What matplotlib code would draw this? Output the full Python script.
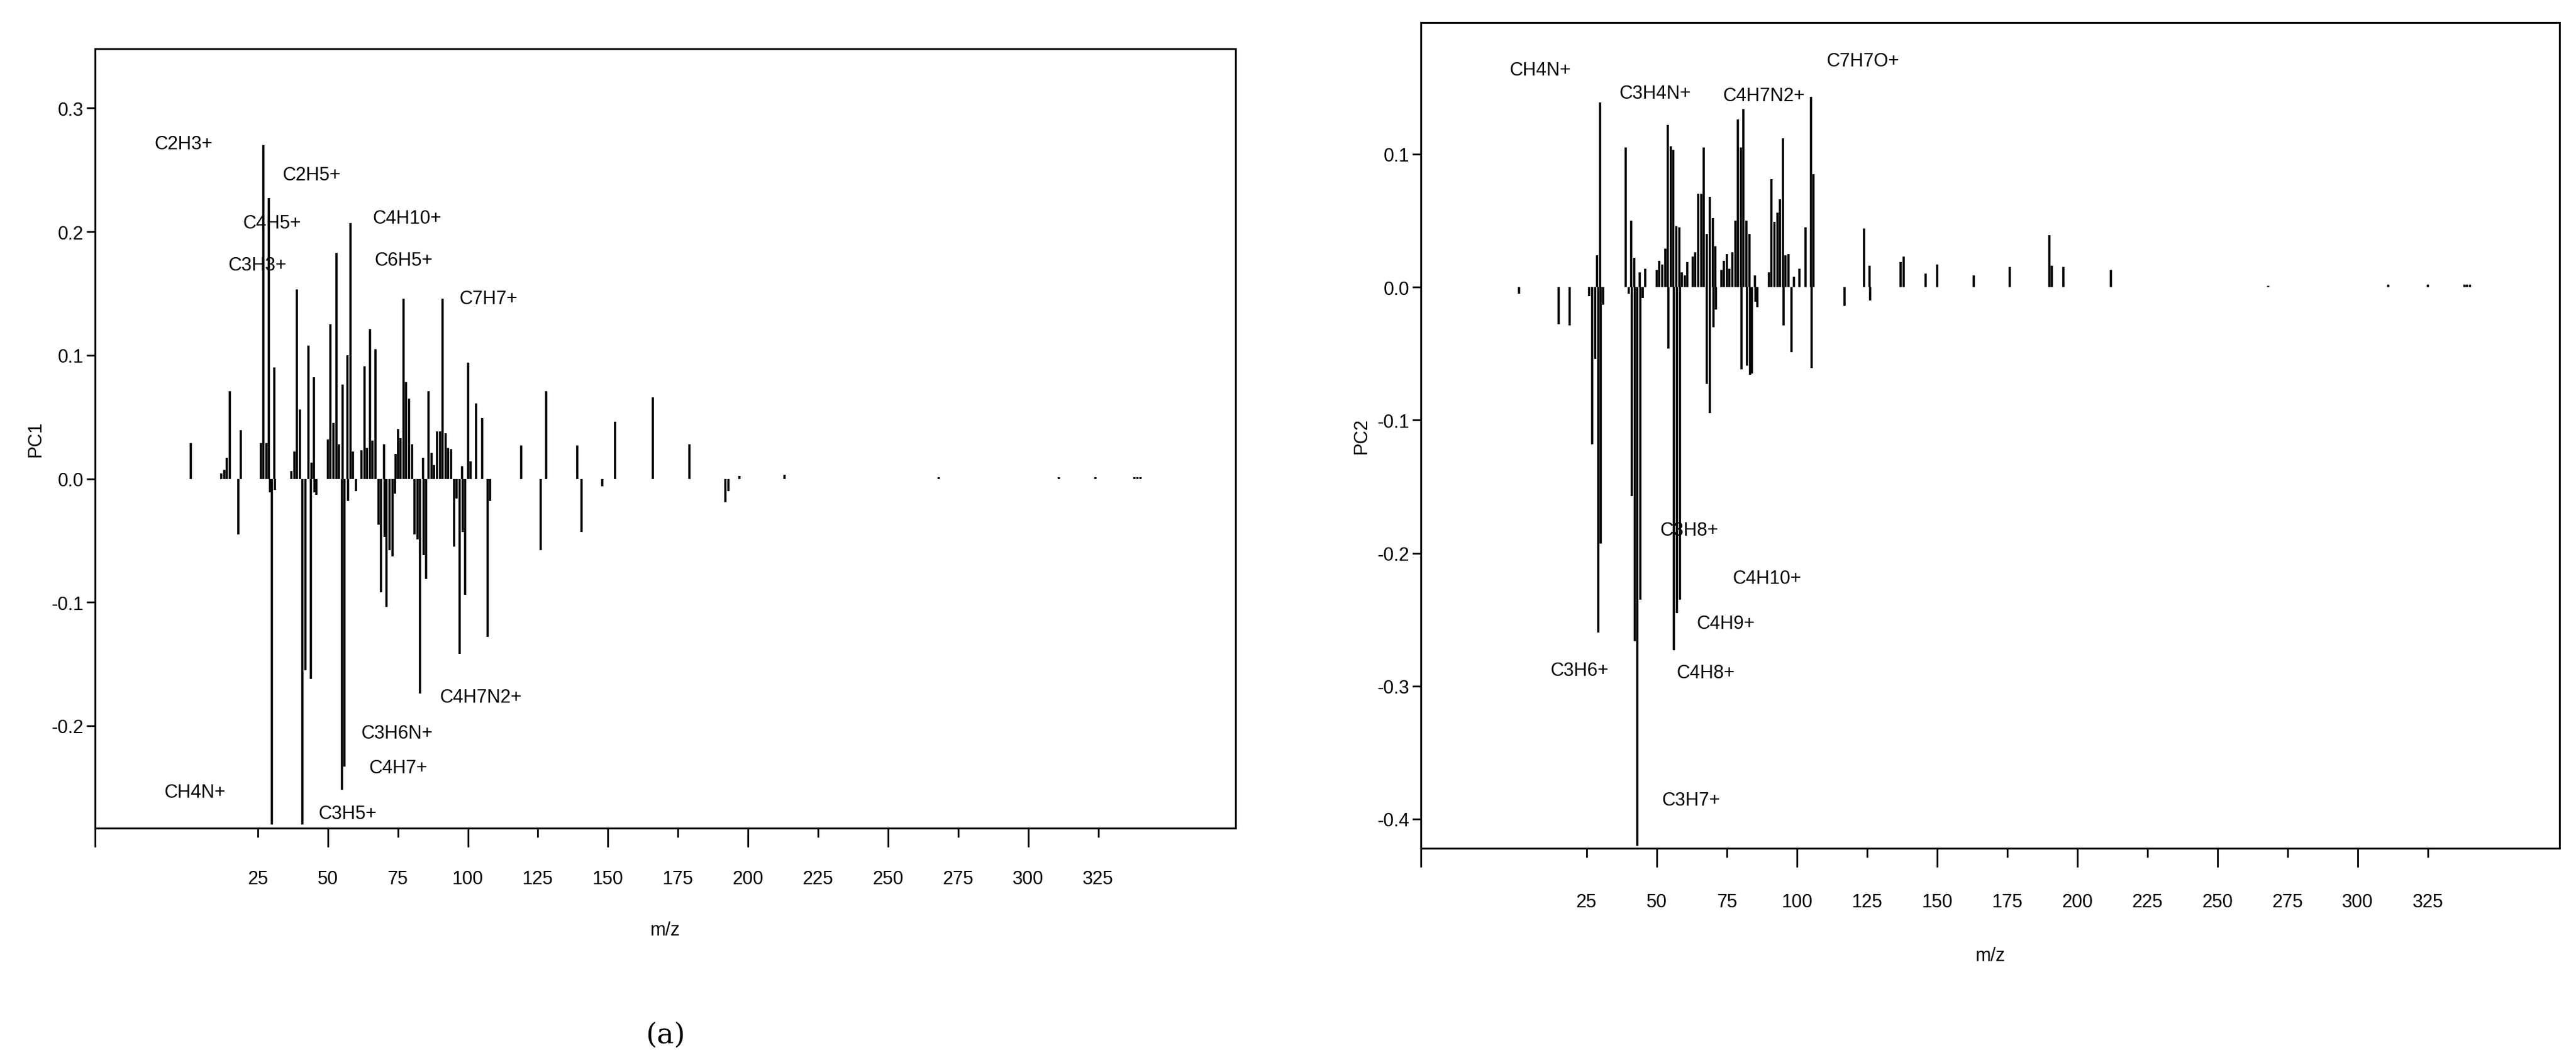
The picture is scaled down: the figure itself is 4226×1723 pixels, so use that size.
import matplotlib
matplotlib.use("Agg")
import matplotlib.pyplot as plt
from matplotlib.ticker import FixedLocator, NullFormatter

plt.rcParams['font.family'] = ['Liberation Sans', 'DejaVu Sans']
plt.rcParams['axes.unicode_minus'] = False

# ---------------- PC1 loadings ----------------
pc1_mz = [1, 12, 13, 14, 15, 18, 19, 26, 27, 28, 29, 29.3, 30, 31, 31.2, 37, 38, 39, 40, 41,
          42, 43, 44, 44.2, 45, 45.2, 46, 50, 51, 52, 53, 54, 55, 55.2, 56, 57, 57.2, 58, 59, 60,
          62, 63, 64, 65, 66, 67, 68, 69, 70, 70.2, 71, 72, 73, 74, 74.2, 75, 76, 77, 78, 79, 80,
          81, 82, 83, 84, 84.2, 85, 86, 87, 88, 89, 90, 91, 92, 93, 94, 95, 96, 97, 98, 98.2, 99,
          100, 101, 103, 105, 107, 108, 119, 126, 128, 139, 140.5, 148, 152.5, 166, 179, 192,
          193, 197, 213, 268, 311, 324, 338, 339, 340]
pc1_val = [0.029, 0.004, 0.007, 0.017, 0.071, -0.045, 0.039, 0.029, 0.270, 0.029, 0.227, -0.011,
           -0.280, 0.090, -0.009, 0.006, 0.022, 0.153, 0.056, -0.280,
           -0.155, 0.108, -0.162, 0.013, 0.082, -0.011, -0.013, 0.032, 0.125, 0.045, 0.183, 0.028,
           -0.252, 0.076, -0.233, 0.100, -0.018, 0.207, 0.022, -0.010,
           0.023, 0.091, 0.025, 0.121, 0.031, 0.105, -0.037, -0.092, 0.028, -0.047, -0.104, -0.058,
           -0.063, -0.012, 0.020, 0.040, 0.033, 0.146, 0.078, 0.065, 0.028,
           -0.045, -0.049, -0.174, 0.017, -0.062, -0.081, 0.071, 0.021, 0.011, 0.038, 0.038, 0.146,
           0.037, 0.025, 0.024, -0.055, -0.016, -0.142, 0.010, -0.043, -0.094,
           0.094, 0.014, 0.061, 0.049, -0.128, -0.018, 0.027, -0.058, 0.071, 0.027, -0.043, -0.006,
           0.046, 0.066, 0.028, -0.019, -0.010, 0.002, 0.003, 0.001, 0.001, 0.001, 0.001, 0.001, 0.001]
pc1_labels = ["C2H3+", "C2H5+", "C4H5+", "C4H10+", "C6H5+", "C3H3+", "C7H7+",
              "C4H7N2+", "C3H6N+", "C4H7+", "CH4N+", "C3H5+"]
pc1_lab_x = [-11.9, 33.8, 19.7, 66.0, 66.6, 14.5, 97.0, 90.0, 61.9, 64.8, -8.4, 46.7]
pc1_lab_y = [0.271, 0.246, 0.207, 0.211, 0.177, 0.173, 0.146, -0.177, -0.206, -0.234, -0.254, -0.271]

# ---------------- PC2 loadings ----------------
pc2_mz = [1, 15, 19, 26, 27, 28, 28.8, 29.1, 29.8, 30.1,
          31, 39, 40, 41, 41.2, 42, 42.2, 43, 44, 44.2,
          45, 46, 50, 51, 52, 53, 54, 54.2, 55, 56,
          56.2, 57, 57.2, 58, 58.2, 59, 60, 61, 62.8, 63.8,
          64.8, 65.8, 66.8, 67.8, 67.9, 68.9, 69.0, 70, 70.2, 71,
          71.2, 73, 74, 75, 76, 77, 78, 79, 80, 80.2,
          81, 82, 82.2, 83, 83.2, 84, 85, 85.2, 86, 90,
          91, 92, 93, 94, 95, 95.2, 96, 97, 98, 99,
          101, 103, 105, 105.2, 106, 117, 124, 126, 126.2, 137,
          138, 146, 150, 163, 176, 190, 191, 195, 212, 268,
          311, 325, 338, 339, 340]
pc2_val = [-0.005, -0.028, -0.029, -0.007, -0.118, -0.054, 0.024, -0.260, 0.139, -0.193,
           -0.013, 0.105, -0.005, 0.050, -0.157, 0.022, -0.266, -0.420, 0.011, -0.235,
           -0.008, 0.014, 0.013, 0.020, 0.017, 0.029, 0.122, -0.046, 0.106, 0.103,
           -0.273, 0.046, -0.245, 0.045, -0.235, 0.011, 0.009, 0.019, 0.023, 0.026,
           0.070, 0.070, 0.105, 0.040, -0.073, 0.068, -0.095, 0.052, -0.030, 0.031,
           -0.017, 0.013, 0.020, 0.025, 0.014, 0.026, 0.050, 0.126, 0.105, -0.062,
           0.134, 0.050, -0.059, 0.040, -0.066, -0.065, 0.009, -0.011, -0.015, 0.011,
           0.081, 0.049, 0.056, 0.066, 0.112, -0.029, 0.024, 0.025, -0.049, 0.008,
           0.014, 0.045, 0.143, -0.061, 0.085, -0.014, 0.044, 0.016, -0.010, 0.019,
           0.023, 0.010, 0.017, 0.009, 0.015, 0.039, 0.016, 0.015, 0.013, 0.001,
           0.002, 0.002, 0.002, 0.002, 0.002]
pc2_labels = ["CH4N+", "C3H4N+", "C4H7N2+", "C7H7O+", "C3H8+", "C4H10+", "C4H9+",
              "C3H6+", "C4H8+", "C3H7+"]
pc2_lab_x = [-2.5, 36.7, 73.6, 110.5, 51.3, 77.1, 64.2, 12.1, 57.2, 51.9]
pc2_lab_y = [0.163, 0.146, 0.144, 0.170, -0.183, -0.219, -0.253, -0.288, -0.290, -0.386]

xticks = [25, 50, 75, 100, 125, 150, 175, 200, 225, 250, 275, 300, 325]

fig = plt.figure(figsize=(42.26, 17.24), dpi=100)
ax1 = fig.add_axes([0.037, 0.211, 0.4426, 0.742])
ax2 = fig.add_axes([0.5517, 0.192, 0.4419, 0.786])

def style(ax, mz, val, labels, lx, ly, xlim, ylim, yticks, ylabel, tag):
    ax.vlines(mz, 0, val, color='black', lw=2.6)
    ax.set_xlim(*xlim)
    ax.set_ylim(*ylim)
    for s in ax.spines.values():
        s.set_linewidth(2.2)
    major = [xlim[0]] + [t for t in xticks if t % 50 == 0]
    minor = [t for t in xticks if t % 50 != 0]
    ax.xaxis.set_major_locator(FixedLocator(major))
    ax.xaxis.set_minor_locator(FixedLocator(minor))
    ax.xaxis.set_major_formatter(NullFormatter())
    ax.tick_params(axis='x', which='major', length=22, width=2, direction='out')
    ax.tick_params(axis='x', which='minor', length=11, width=2, direction='out')
    for t in xticks:
        ax.text(t, -0.065, str(t), transform=ax.get_xaxis_transform(),
                ha='center', va='center', fontsize=22)
    ax.set_yticks(yticks)
    ax.set_yticklabels([f"{v:.1f}" for v in yticks], fontsize=22)
    ax.tick_params(axis='y', length=10, width=2, direction='out')
    ax.set_ylabel(ylabel, fontsize=22, labelpad=8)
    ax.text(0.5, -0.13, "m/z", transform=ax.transAxes, ha='center', va='center', fontsize=22)
    ax.text(0.5, -0.265, tag, transform=ax.transAxes, ha='center', va='center',
            fontsize=34, family='DejaVu Serif')
    for lab, x, y in zip(labels, lx, ly):
        ax.text(x, y, lab, ha='left', va='center', fontsize=22)

style(ax1, pc1_mz, pc1_val, pc1_labels, pc1_lab_x, pc1_lab_y, (-33, 374), (-0.283, 0.348),
      [-0.2, -0.1, 0.0, 0.1, 0.2, 0.3], "PC1", "(a)")
style(ax2, pc2_mz, pc2_val, pc2_labels, pc2_lab_x, pc2_lab_y, (-34, 372), (-0.422, 0.199),
      [-0.4, -0.3, -0.2, -0.1, 0.0, 0.1], "PC2", "(b)")
fig.savefig("out.png", dpi=100)
